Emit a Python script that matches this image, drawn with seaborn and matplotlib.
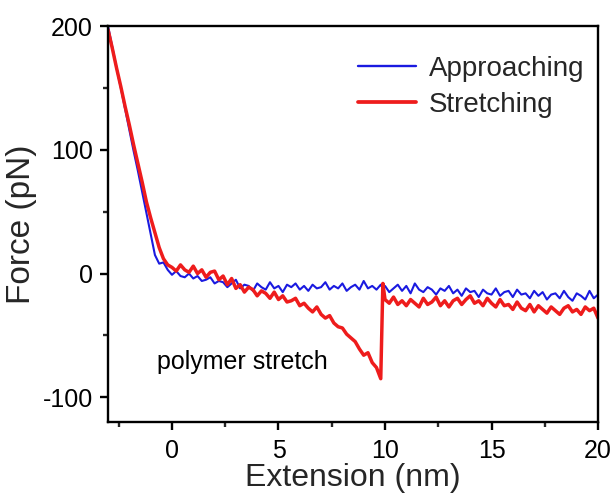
import matplotlib
matplotlib.use("Agg")
import matplotlib.pyplot as plt
from matplotlib.ticker import MultipleLocator
import seaborn as sns
import pandas as pd

# ---------------- data ----------------
extension_nm = [
    -3.0, -2.8, -2.6, -2.4, -2.2, -2.0, -1.8, -1.6, -1.4, -1.2, -1.0, -0.8, -0.6, -0.4, -0.2,
    0.0, 0.2, 0.4, 0.6, 0.8, 1.0, 1.2, 1.4, 1.6, 1.8, 2.0, 2.2, 2.4, 2.6, 2.8,
    3.0, 3.2, 3.4, 3.6, 3.8, 4.0, 4.2, 4.4, 4.6, 4.8, 5.0, 5.2, 5.4, 5.6, 5.8,
    6.0, 6.2, 6.4, 6.6, 6.8, 7.0, 7.2, 7.4, 7.6, 7.8, 8.0, 8.2, 8.4, 8.6, 8.8,
    9.0, 9.2, 9.4, 9.6, 9.8, 9.9, 10.0, 10.2, 10.4, 10.6, 10.8,
    11.0, 11.2, 11.4, 11.6, 11.8, 12.0, 12.2, 12.4, 12.6, 12.8,
    13.0, 13.2, 13.4, 13.6, 13.8, 14.0, 14.2, 14.4, 14.6, 14.8,
    15.0, 15.2, 15.4, 15.6, 15.8, 16.0, 16.2, 16.4, 16.6, 16.8,
    17.0, 17.2, 17.4, 17.6, 17.8, 18.0, 18.2, 18.4, 18.6, 18.8,
    19.0, 19.2, 19.4, 19.6, 19.8, 20.0,
]

approaching_pN = [
    200, 183, 166, 150, 133, 116, 99, 83, 66, 49, 32, 15, 8, 9, 3,
    -1, 2, -2, -3, 0, -4, -2, -6, -5, -3, -8, -6, -7, -11, -8,
    -5, -12, -9, -10, -14, -8, -11, -13, -7, -12, -10, -15, -9, -11, -8,
    -13, -10, -14, -9, -12, -11, -7, -13, -10, -12, -8, -14, -11, -9, -13,
    -6, -12, -10, -13, -9, -12, -10, -15, -12, -9, -14,
    -10, -16, -8, -13, -15, -11, -13, -17, -12, -14,
    -10, -16, -13, -18, -12, -15, -14, -19, -13, -16,
    -17, -12, -18, -15, -14, -19, -13, -17, -16, -20,
    -14, -18, -15, -21, -17, -16, -20, -14, -19, -22,
    -16, -18, -21, -14, -20, -17,
]

stretching_pN = [
    197, 182, 166, 151, 135, 120, 104, 89, 74, 58, 45, 33, 21, 12, 7,
    5, 2, 7, 3, 1, 6, 0, 3, -3, 1, 2, -5, -2, -9, -4,
    -12, -9, -15, -11, -13, -18, -14, -16, -20, -15, -21, -18, -23, -22, -20,
    -26, -24, -28, -31, -27, -33, -36, -34, -40, -43, -44, -49, -52, -55, -61,
    -66, -64, -72, -76, -85, -8, -21, -24, -19, -25, -22,
    -26, -21, -24, -27, -20, -25, -23, -19, -26, -22,
    -27, -22, -20, -25, -21, -18, -24, -22, -26, -20,
    -24, -27, -21, -26, -25, -29, -23, -28, -30, -25,
    -31, -26, -29, -32, -27, -30, -33, -28, -26, -31,
    -29, -33, -27, -30, -28, -36,
]

series_names = ["Approaching", "Stretching"]
series_colors = ["#1a1ae0", "#ee1c1c"]
annotation_text = "polymer stretch"
x_label = "Extension (nm)"
y_label = "Force (pN)"

# ---------------- plotting ----------------
sns.set_style("ticks")
plt.rcParams["font.family"] = ["Liberation Sans", "DejaVu Sans"]
plt.rcParams["axes.unicode_minus"] = False

df_a = pd.DataFrame({"x": extension_nm, "y": approaching_pN, "series": series_names[0]})
df_s = pd.DataFrame({"x": extension_nm, "y": stretching_pN, "series": series_names[1]})

fig = plt.figure(figsize=(6.14, 4.93), dpi=100)
ax = fig.add_axes([0.176, 0.144, 0.798, 0.803])

sns.lineplot(data=df_a, x="x", y="y", color=series_colors[0], linewidth=1.5,
             estimator=None, sort=False, label=series_names[0], ax=ax)
sns.lineplot(data=df_s, x="x", y="y", color=series_colors[1], linewidth=2.5,
             estimator=None, sort=False, label=series_names[1], ax=ax)

ax.set_xlim(-3, 20)
ax.set_ylim(-120, 200)
ax.xaxis.set_major_locator(MultipleLocator(5))
ax.xaxis.set_minor_locator(MultipleLocator(2.5))
ax.yaxis.set_major_locator(MultipleLocator(100))
ax.yaxis.set_minor_locator(MultipleLocator(50))

for s in ax.spines.values():
    s.set_visible(True)
    s.set_linewidth(1.7)
    s.set_color("black")

ax.tick_params(axis="both", which="major", direction="out", length=6, width=1.7,
               labelsize=18, colors="black", top=False, right=False)
ax.tick_params(axis="both", which="minor", direction="out", length=3.5, width=1.7,
               top=False, right=False)
ax.tick_params(axis="y", which="major", pad=5)
ax.tick_params(axis="x", which="major", pad=6)

ax.set_xlabel(x_label, fontsize=23, labelpad=0)
ax.set_ylabel(y_label, fontsize=24, labelpad=4)

ax.text(-0.7, -77, annotation_text, fontsize=18, color="black", ha="left", va="baseline")

leg = ax.legend(loc="upper left", bbox_to_anchor=(0.51, 0.925), frameon=False,
                fontsize=20, handlelength=2.1, handletextpad=0.45, labelspacing=0.35,
                borderpad=0, borderaxespad=0)
leg.get_lines()[0].set_linewidth(1.7)
leg.get_lines()[1].set_linewidth(2.7)

fig.savefig("out.png", dpi=100)
